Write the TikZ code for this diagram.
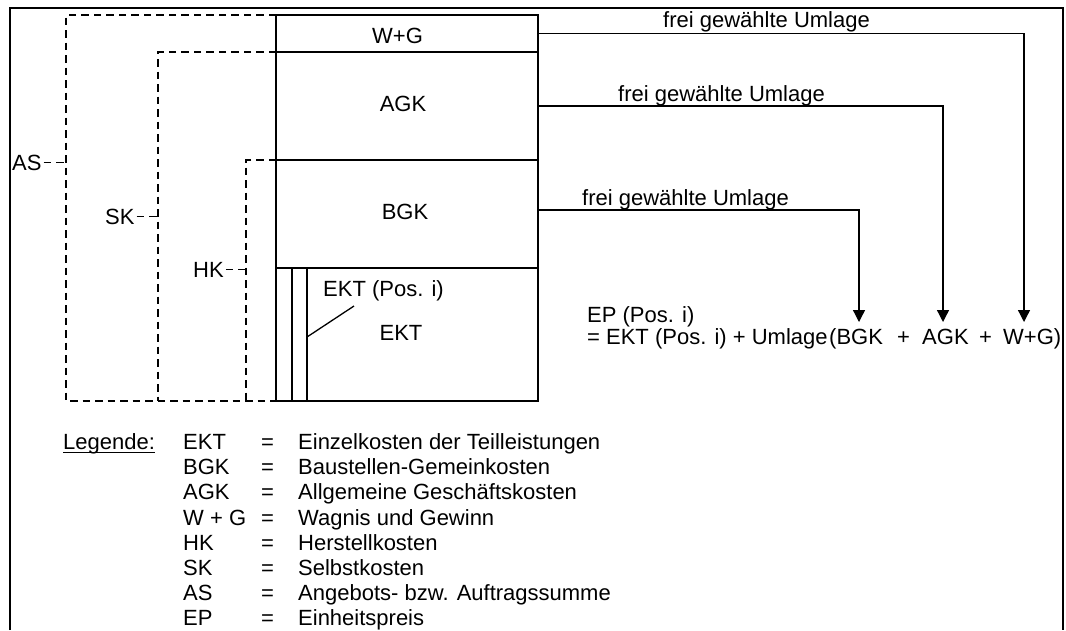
\documentclass[tikz,border=0pt]{standalone}
\usepackage{fontspec}
\setmainfont{Liberation Sans}
\usetikzlibrary{arrows.meta,calc}
\newcommand\dfont{\fontsize{22}{25}\selectfont}
\begin{document}
\begin{tikzpicture}[x=1pt,y=-1pt,
  txt/.style={font=\dfont, inner sep=0pt, anchor=base west},
  ctxt/.style={font=\dfont, inner sep=0pt, anchor=base},
  tag/.style={font=\dfont, inner sep=2pt, anchor=base west},
  seg/.style={draw, line width=1.6pt, minimum width=262pt, inner sep=0pt,
              outer sep=0pt, anchor=north west},
  brk/.style={line width=1.7pt, dash pattern=on 7.5pt off 5pt},
  link/.style={line width=1.3pt, -{Triangle[length=12pt,width=12pt]}},
  ]
\useasboundingbox (0,0) rectangle (1066,630);

% outer frame (open at the bottom)
\draw[line width=2.2pt, line join=miter] (10,630) -- (10,8) -- (1063,8) -- (1063,630);

% cost blocks
\node[seg, minimum height=37pt]    (wg)  at (276,15)  {};
\node[seg, minimum height=108pt]   (agk) at (276,52)  {};
\node[seg, minimum height=108pt]   (bgk) at (276,160) {};
\node[seg, minimum height=133pt]   (ekt) at (276,268) {};
\draw[line width=1.6pt] (292,268) -- (292,401);
\draw[line width=1.6pt] (307,268) -- (307,401);

\node[ctxt] (twg)  at (397.5,43) {W+G};
\node[ctxt] (tagk) at (403,111)  {AGK};
\node[ctxt] (tbgk) at (405,219)  {BGK};
\node[txt]  (tpos) at (323,296)  {EKT (Pos. i)};
\node[ctxt] (tekt) at (401,340)  {EKT};
\coordinate (pin) at (307,337);
\draw[line width=1.3pt] (pin) -- ($(tpos.base west)+(31,10)$);

% dashed brackets AS, SK, HK
\coordinate (asv) at (66,0);
\coordinate (skv) at (158,0);
\coordinate (hkv) at (246,0);
\draw[brk] (wg.north west) -- (66,15) -- (66,401) -- (ekt.south west);
\draw[brk] (agk.north west) -- (158,52) -- (158,401);
\draw[brk] (bgk.north west) -- (246,160) -- (246,401);

\node[tag] (as) at (10,170)  {AS};
\node[tag] (sk) at (103,224) {SK};
\node[tag] (hk) at (191,277) {HK};
\draw[brk] (as.east) -- (as.east -| asv);
\draw[brk] (sk.east) -- (sk.east -| skv);
\draw[brk] (hk.east) -- (hk.east -| hkv);

% allocation arrows
\coordinate (tb) at (859,322);
\coordinate (ta) at (943,322);
\coordinate (tw) at (1024,322);
\draw[link] ([yshift=4pt]bgk.east) -| (tb);
\draw[link] (agk.east) -| (ta);
\draw[link] (wg.east) -| (tw);
\node[txt] (u1) at (663,27.5)  {frei gewählte Umlage};
\node[txt] (u2) at (618,101.5) {frei gewählte Umlage};
\node[txt] (u3) at (582,205)   {frei gewählte Umlage};

% unit price formula
\node[txt] (ep1) at (587,322) {EP (Pos. i)};
\node[txt] (ep2) at (587,344) {= EKT (Pos. i) + Umlage};
\node[txt] (ep3) at (829,344) {(BGK};
\node[txt] (ep4) at (897,344) {+};
\node[txt] (ep5) at (922,344) {AGK};
\node[txt] (ep6) at (979,344) {+};
\node[txt] (ep7) at (1003,344) {W+G)};

% legend
\node[txt] (leg) at (63,449.5) {Legende:};
\draw[line width=1.2pt] ([yshift=-3pt]leg.base west) -- ([yshift=-3pt]leg.base east);
\foreach \k/\a/\b in {0/EKT/Einzelkosten der Teilleistungen,
                      1/BGK/Baustellen-Gemeinkosten,
                      2/AGK/Allgemeine Geschäftskosten,
                      3/W + G/Wagnis und Gewinn,
                      4/HK/Herstellkosten,
                      5/SK/Selbstkosten,
                      6/AS/Angebots- bzw. Auftragssumme,
                      7/EP/Einheitspreis} {
  \node[txt] (la\k) at (183,{449.5+25.2*\k}) {\a};
  \node[txt] (le\k) at (261,{449.5+25.2*\k}) {=};
  \node[txt] (lb\k) at (298,{449.5+25.2*\k}) {\b};
}
\end{tikzpicture}
\end{document}
